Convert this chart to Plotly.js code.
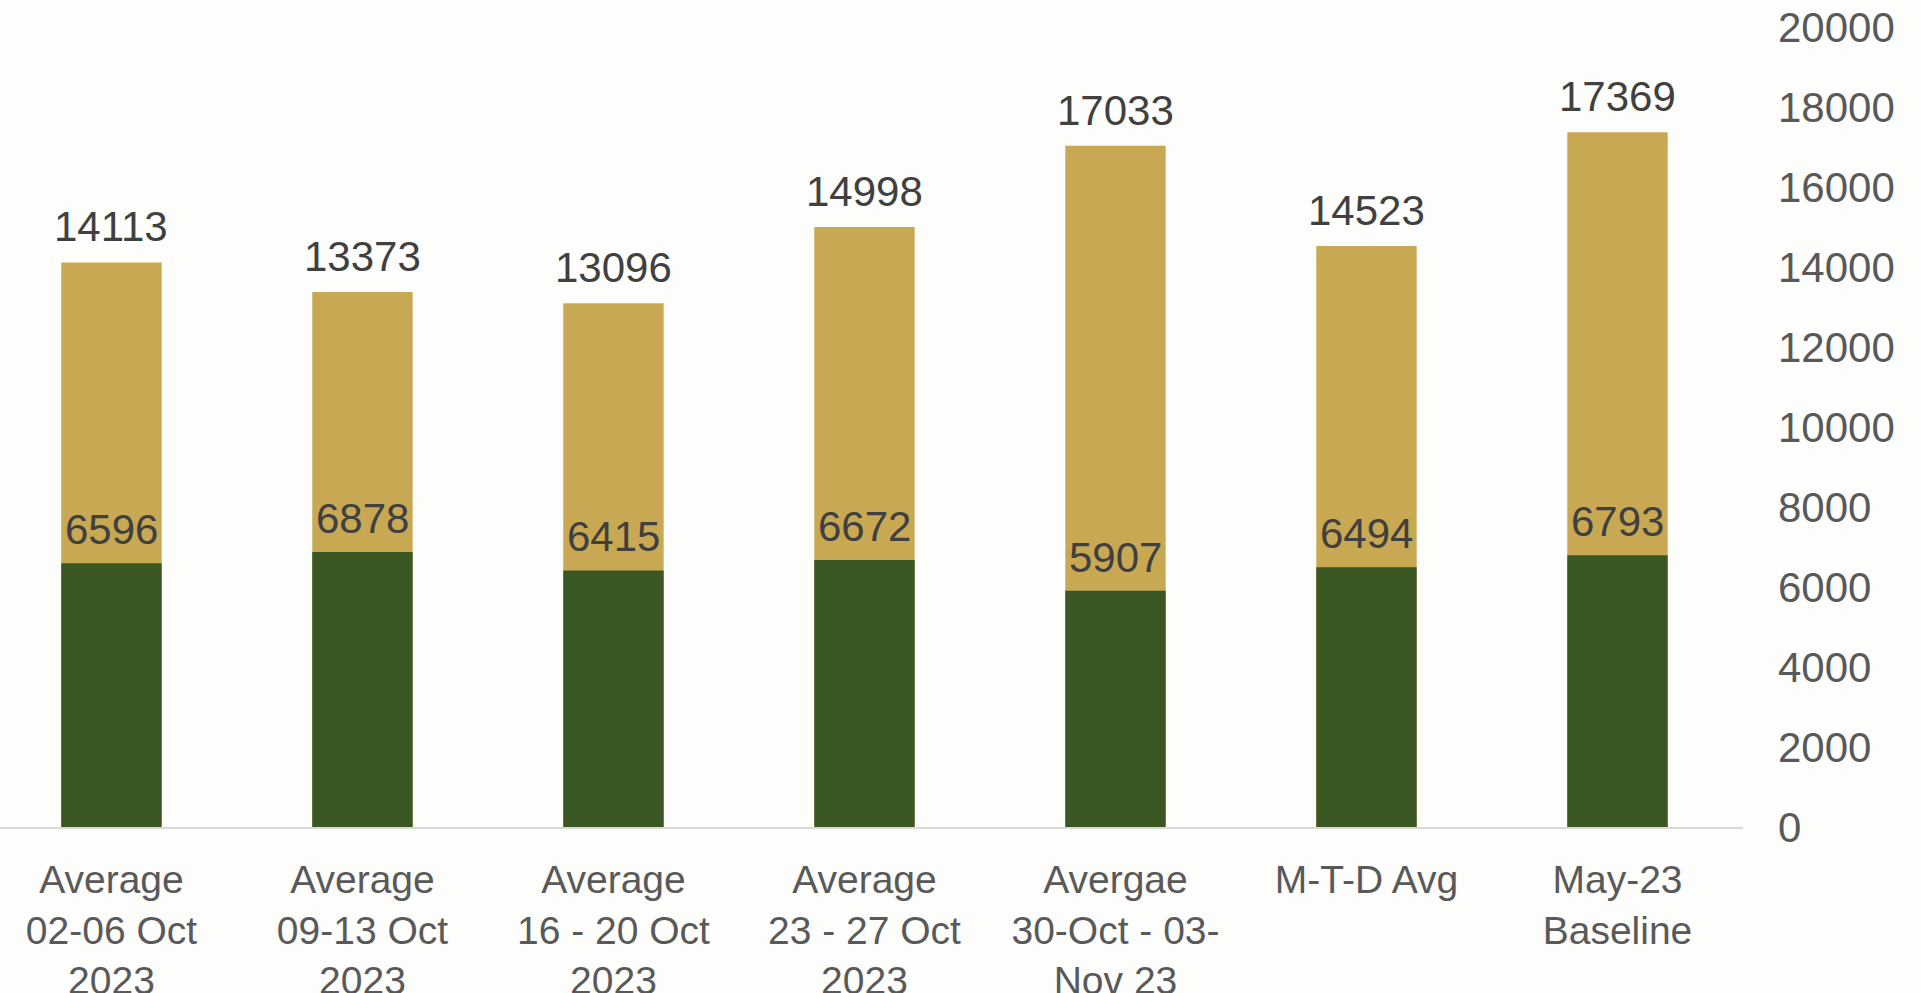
<!DOCTYPE html>
<html>
<head>
<meta charset="utf-8">
<script src="https://cdn.plot.ly/plotly-3.0.1.min.js"></script>
<style>html,body{margin:0;padding:0;background:#FDFDFC;}#chart{width:1921px;height:993px;}</style>
</head>
<body>
<div id="chart"></div>
<script>
const categories = ["Average<br>02-06 Oct<br>2023", "Average<br>09-13 Oct<br>2023", "Average<br>16 - 20 Oct<br>2023", "Average<br>23 - 27 Oct<br>2023", "Avergae<br>30-Oct - 03-<br>Nov 23", "M-T-D Avg", "May-23<br>Baseline"];
const totalValues = [14113, 13373, 13096, 14998, 17033, 14523, 17369];
const greenValues = [6596, 6878, 6415, 6672, 5907, 6494, 6793];
const yTicks = [0, 2000, 4000, 6000, 8000, 10000, 12000, 14000, 16000, 18000, 20000];

const goldColor = "#C8A853";
const greenColor = "#3A5723";
const labelFont = {family: "Liberation Sans, Arial, sans-serif", size: 42, color: "#404040"};

const traces = [
  {type: "bar", x: categories, y: totalValues, marker: {color: goldColor}, width: 0.4, hoverinfo: "y"},
  {type: "bar", x: categories, y: greenValues, marker: {color: greenColor}, width: 0.4, hoverinfo: "y"}
];

const annotations = [];
categories.forEach((c, i) => {
  annotations.push({x: c, y: totalValues[i], text: String(totalValues[i]), showarrow: false, yanchor: "bottom", yshift: 10, font: labelFont});
  annotations.push({x: c, y: greenValues[i], text: String(greenValues[i]), showarrow: false, yanchor: "bottom", yshift: 8, font: labelFont});
});

const layout = {
  width: 1921, height: 993,
  paper_bgcolor: "#FDFDFC", plot_bgcolor: "#FDFDFC",
  margin: {l: 0, r: 178, t: 27, b: 166},
  barmode: "overlay",
  showlegend: false,
  font: {family: "Liberation Sans, Arial, sans-serif", size: 39, color: "#595959"},
  xaxis: {
    type: "category",
    range: [-0.444, 6.5],
    showline: true, linecolor: "#D9D9D9", linewidth: 2,
    showgrid: false, zeroline: false,
    ticks: "", tickangle: 0,
    ticklabelstandoff: 17,
    tickfont: {size: 39, color: "#595959"}
  },
  yaxis: {
    range: [0, 20000],
    side: "right",
    tickvals: yTicks,
    ticktext: yTicks.map(String),
    showgrid: false, zeroline: false, showline: false,
    ticks: "", ticklabelstandoff: 34,
    tickfont: {size: 42, color: "#595959"}
  },
  annotations: annotations
};

Plotly.newPlot("chart", traces, layout, {displayModeBar: false, staticPlot: true});
</script>
</body>
</html>
